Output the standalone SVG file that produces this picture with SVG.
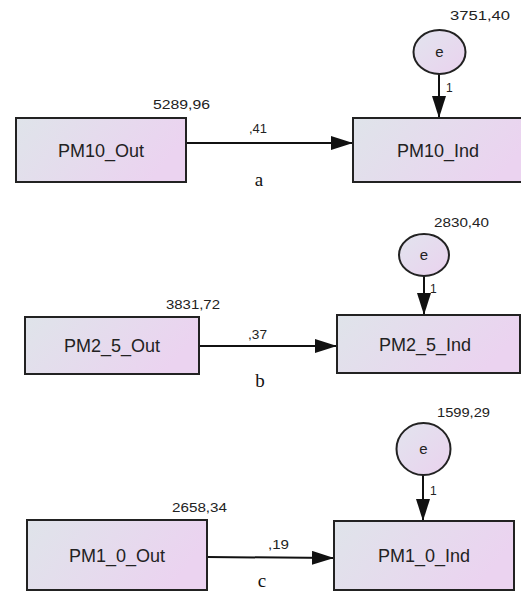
<svg xmlns="http://www.w3.org/2000/svg" width="521" height="592" viewBox="0 0 521 592">
<defs>
<linearGradient id="gbox" x1="0" y1="0" x2="1" y2="0.3">
<stop offset="0" stop-color="#dfe4ea"/>
<stop offset="1" stop-color="#ebd3f0"/>
</linearGradient>
<linearGradient id="gcirc" x1="0" y1="0" x2="1" y2="1">
<stop offset="0" stop-color="#e2e4ee"/>
<stop offset="1" stop-color="#ead2ee"/>
</linearGradient>
<marker id="arr" viewBox="0 0 22 14" refX="22" refY="7" markerWidth="22" markerHeight="14" markerUnits="userSpaceOnUse" orient="auto">
<path d="M0,0 L22,7 L0,14 Z" fill="#111"/>
</marker>
</defs>
<style>
.box{fill:url(#gbox);stroke:#222;stroke-width:2}
.circ{fill:url(#gcirc);stroke:#222;stroke-width:2}
.lbl{font-family:"Liberation Sans",Arial,sans-serif;font-size:18px;fill:#222;text-anchor:middle}
.e{font-family:"Liberation Sans",Arial,sans-serif;font-size:15px;fill:#222;text-anchor:middle}
.num{font-family:"Liberation Sans",Arial,sans-serif;font-size:12px;fill:#222}
.cap{font-family:"Liberation Serif","Times New Roman",serif;font-size:19px;fill:#111;text-anchor:middle}
.con{stroke:#111;stroke-width:2;fill:none;marker-end:url(#arr)}
</style>
<rect width="521" height="592" fill="#fff"/>
<g id="connectors">
<line class="con" x1="186" y1="143" x2="353" y2="143"/>
<line class="con" x1="439" y1="74" x2="439" y2="118"/>
<line class="con" x1="199" y1="346" x2="337" y2="346"/>
<line class="con" x1="424" y1="276" x2="424" y2="315"/>
<line class="con" x1="207" y1="557" x2="334" y2="558"/>
<line class="con" x1="423" y1="475" x2="423" y2="521"/>
<text class="num" x="249" y="133" textLength="18" lengthAdjust="spacingAndGlyphs">,41</text>
<text class="num" x="446" y="92">1</text>
<text class="num" x="248" y="339" textLength="19" lengthAdjust="spacingAndGlyphs">,37</text>
<text class="num" x="430" y="293">1</text>
<text class="num" x="268" y="549" textLength="21" lengthAdjust="spacingAndGlyphs">,19</text>
<text class="num" x="430" y="495">1</text>
</g>
<g id="PM10_Out">
<rect class="box" x="16" y="118" width="170" height="64"/>
<text class="lbl" x="101" y="157">PM10_Out</text>
<text class="num" x="153" y="109" textLength="57" lengthAdjust="spacingAndGlyphs">5289,96</text>
</g>
<g id="PM10_Ind">
<rect class="box" x="353" y="118" width="180" height="64"/>
<text class="lbl" x="438" y="157">PM10_Ind</text>
</g>
<g id="e_a">
<ellipse class="circ" cx="439.5" cy="52" rx="26" ry="22"/>
<text class="e" x="439.5" y="57">e</text>
<text class="num" x="450" y="20" textLength="60" lengthAdjust="spacingAndGlyphs">3751,40</text>
</g>
<text class="cap" x="259" y="186">a</text>
<g id="PM2_5_Out">
<rect class="box" x="25" y="317" width="174" height="57"/>
<text class="lbl" x="112" y="352">PM2_5_Out</text>
<text class="num" x="166" y="309" textLength="54" lengthAdjust="spacingAndGlyphs">3831,72</text>
</g>
<g id="PM2_5_Ind">
<rect class="box" x="337" y="315" width="183" height="58"/>
<text class="lbl" x="425" y="351">PM2_5_Ind</text>
</g>
<g id="e_b">
<ellipse class="circ" cx="424" cy="255" rx="25" ry="21"/>
<text class="e" x="424" y="260">e</text>
<text class="num" x="434" y="227" textLength="55" lengthAdjust="spacingAndGlyphs">2830,40</text>
</g>
<text class="cap" x="260" y="387">b</text>
<g id="PM1_0_Out">
<rect class="box" x="27" y="520" width="180" height="70"/>
<text class="lbl" x="117" y="562">PM1_0_Out</text>
<text class="num" x="172" y="512" textLength="55" lengthAdjust="spacingAndGlyphs">2658,34</text>
</g>
<g id="PM1_0_Ind">
<rect class="box" x="334" y="521" width="180" height="69"/>
<text class="lbl" x="424" y="562">PM1_0_Ind</text>
</g>
<g id="e_c">
<ellipse class="circ" cx="423.5" cy="449" rx="27" ry="26"/>
<text class="e" x="423.5" y="454">e</text>
<text class="num" x="437" y="417" textLength="53" lengthAdjust="spacingAndGlyphs">1599,29</text>
</g>
<text class="cap" x="262" y="587">c</text>
</svg>
